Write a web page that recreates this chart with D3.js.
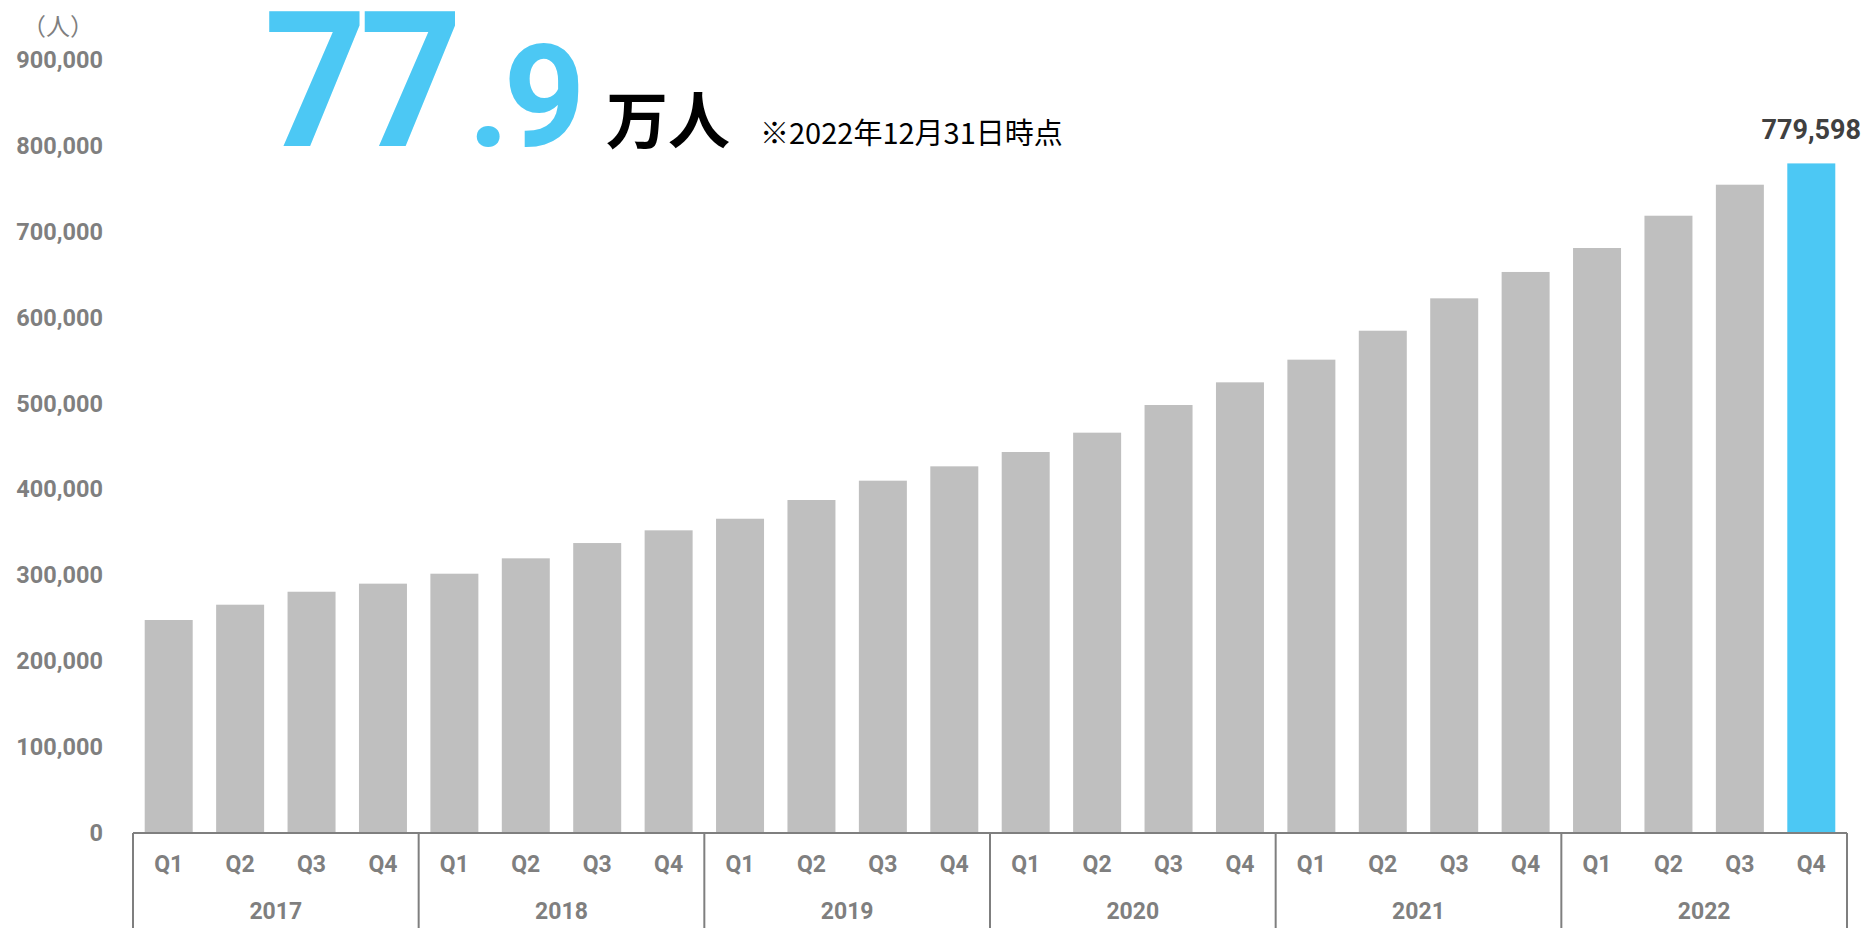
<!DOCTYPE html>
<html>
<head>
<meta charset="utf-8">
<script src="https://cdn.jsdelivr.net/npm/d3@7"></script>
<style>
  html, body { margin: 0; padding: 0; background: #fff; }
  svg { display: block; }
</style>
</head>
<body>
<svg id="chart" width="1863" height="928"></svg>
<script>
// Registered users at the end of each quarter
const years = ["2017", "2018", "2019", "2020", "2021", "2022"];
const quarters = ["Q1", "Q2", "Q3", "Q4"];
const users = [
  248000, 265800, 280900, 290300,
  301900, 319800, 337600, 352400,
  365900, 387700, 410200, 426900,
  443600, 466100, 498300, 524700,
  551100, 584800, 622500, 653200,
  681100, 718700, 754800, 779598
];
const yTicks = [0, 100000, 200000, 300000, 400000, 500000, 600000, 700000, 800000, 900000];
const unitLabel = "（人）";
const headlineMain = "77";
const headlineDecimal = ".9";
const headlineUnit = "万人";
const headlineNote = "※2022年12月31日時点";

const W = 1863, H = 928;
const plotLeft = 133, plotRight = 1847, plotBase = 833, plotTop = 60;

const rows = [];
years.forEach((yr, i) => quarters.forEach((q, j) => {
  rows.push({ key: yr + q, year: yr, quarter: q, value: users[i * 4 + j] });
}));

const svg = d3.select("#chart");
const font = "Roboto, 'Noto Sans', sans-serif";
const cjk = "'Noto Sans CJK JP', 'Noto Sans', sans-serif";

const x = d3.scaleBand()
  .domain(rows.map(d => d.key))
  .range([plotLeft, plotRight])
  .paddingInner(0.328)
  .paddingOuter(0.164);

const y = d3.scaleLinear().domain([0, 900000]).range([plotBase, plotTop]);

// Bars: latest quarter highlighted
svg.append("g").selectAll("rect")
  .data(rows)
  .join("rect")
  .attr("x", d => x(d.key))
  .attr("width", x.bandwidth())
  .attr("y", d => y(d.value))
  .attr("height", d => plotBase - y(d.value))
  .attr("fill", (d, i) => i === rows.length - 1 ? "#4CC8F4" : "#BFBFBF");

// Y axis labels
const yAxis = svg.append("g")
  .attr("transform", `translate(103,0)`)
  .call(d3.axisLeft(y).tickValues(yTicks).tickSize(0).tickPadding(0)
    .tickFormat(d3.format(",")));
yAxis.select(".domain").remove();
yAxis.selectAll("text")
  .attr("fill", "#7F7F7F")
  .style("font-family", font)
  .style("font-weight", "bold")
  .style("font-size", "23.5px");

// Unit label
svg.append("text")
  .attr("x", 22).attr("y", 35)
  .attr("fill", "#7F7F7F")
  .style("font-family", cjk)
  .style("font-size", "24px")
  .text(unitLabel);

// Category axis: baseline, quarter labels, year groups
const axisG = svg.append("g");
axisG.append("line")
  .attr("x1", plotLeft).attr("x2", plotRight)
  .attr("y1", plotBase).attr("y2", plotBase)
  .attr("stroke", "#7F7F7F").attr("stroke-width", 2);

const xAxis = svg.append("g")
  .attr("transform", `translate(0,${plotBase})`)
  .call(d3.axisBottom(x).tickSize(0).tickPadding(0).tickFormat(k => k.slice(4)));
xAxis.select(".domain").remove();
xAxis.selectAll("text")
  .attr("dy", null)
  .attr("y", 33)
  .attr("dominant-baseline", "middle")
  .attr("fill", "#7F7F7F")
  .style("font-family", font)
  .style("font-weight", "bold")
  .style("font-size", "23px");

const step = x.step();
const groupEdges = years.map(yr => x(yr + "Q1") - x.paddingOuter() * step);
groupEdges.push(plotRight);
axisG.selectAll("line.sep")
  .data(groupEdges)
  .join("line")
  .attr("class", "sep")
  .attr("x1", d => d).attr("x2", d => d)
  .attr("y1", plotBase).attr("y2", H)
  .attr("stroke", "#7F7F7F").attr("stroke-width", 2);

axisG.selectAll("text.year")
  .data(years)
  .join("text")
  .attr("class", "year")
  .attr("x", (d, i) => (groupEdges[i] + groupEdges[i + 1]) / 2)
  .attr("y", 913)
  .attr("text-anchor", "middle")
  .attr("dominant-baseline", "middle")
  .attr("fill", "#7F7F7F")
  .style("font-family", font)
  .style("font-weight", "bold")
  .style("font-size", "23px")
  .text(d => d);

// Value label on the latest bar
const last = rows[rows.length - 1];
svg.append("text")
  .attr("x", x(last.key) + x.bandwidth() / 2)
  .attr("y", y(last.value) - 24)
  .attr("text-anchor", "middle")
  .attr("fill", "#404040")
  .style("font-family", font)
  .style("font-weight", "bold")
  .style("font-size", "27px")
  .text(d3.format(",")(last.value));

// Headline figure: integer part slightly condensed, decimal part smaller
svg.append("g")
  .attr("transform", "translate(264,146) scale(0.945,1)")
  .append("text")
  .attr("x", 0).attr("y", 0)
  .attr("fill", "#4CC8F4")
  .style("font-family", font)
  .style("font-weight", "bold")
  .style("font-size", "190px")
  .attr("letter-spacing", "-8")
  .text(headlineMain);

svg.append("text")
  .attr("x", 468).attr("y", 146)
  .attr("fill", "#4CC8F4")
  .style("font-family", font)
  .style("font-weight", "bold")
  .style("font-size", "143px")
  .attr("letter-spacing", "-6")
  .text(headlineDecimal);

svg.append("text")
  .attr("x", 606).attr("y", 144)
  .attr("fill", "#000")
  .style("font-family", cjk)
  .style("font-weight", "bold")
  .style("font-size", "62px")
  .text(headlineUnit);

svg.append("text")
  .attr("x", 760).attr("y", 144)
  .attr("fill", "#000")
  .style("font-family", cjk)
  .style("font-size", "29px")
  .text(headlineNote);
</script>
</body>
</html>
